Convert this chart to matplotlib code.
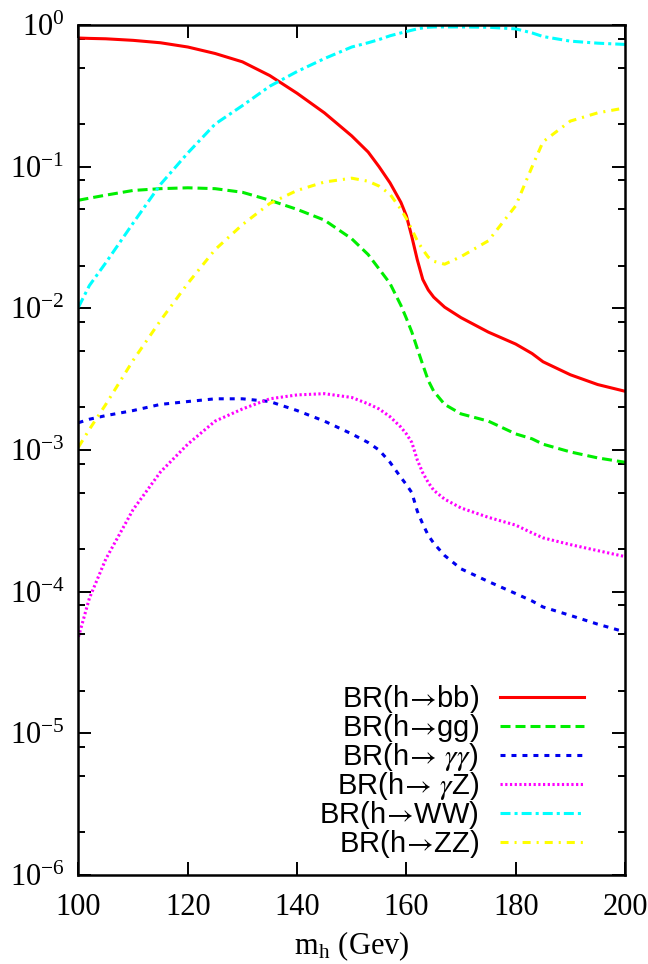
import matplotlib
matplotlib.use("Agg")
import matplotlib.pyplot as plt
from matplotlib.ticker import LogLocator, NullLocator, NullFormatter

# Higgs mass grid (GeV)
mh = [100, 102, 105, 110, 115, 120, 125, 130, 135, 140, 145, 150, 153, 155, 157,
      159, 160, 161, 162, 163, 164, 165, 167, 170, 175, 180, 183, 185, 190, 195, 200]

# branching ratios
br_bb = [0.81, 0.805, 0.80, 0.78, 0.75, 0.70, 0.63, 0.55, 0.44, 0.33, 0.24, 0.165, 0.127,
         0.10, 0.077, 0.056, 0.045, 0.032, 0.022, 0.016, 0.0135, 0.012, 0.0102, 0.0086,
         0.0068, 0.0056, 0.0048, 0.0042, 0.0034, 0.0029, 0.0026]
br_gg = [0.058, 0.060, 0.063, 0.068, 0.070, 0.071, 0.070, 0.066, 0.058, 0.050, 0.042,
         0.031, 0.024, 0.019, 0.015, 0.0105, 0.0085, 0.0068, 0.0052, 0.0040, 0.0031,
         0.0026, 0.0021, 0.0018, 0.0016, 0.0013, 0.0012, 0.0011, 0.00097, 0.00088, 0.00082]
br_aa = [0.00156, 0.00165, 0.00175, 0.0019, 0.0021, 0.0022, 0.0023, 0.0023, 0.0022,
         0.0019, 0.0016, 0.0013, 0.00113, 0.001, 0.00082, 0.00064, 0.00057, 0.0005,
         0.00037, 0.0003, 0.00025, 0.00022, 0.00018, 0.000145, 0.000118, 0.000097,
         0.000086, 0.000078, 0.000068, 0.000059, 0.000052]
br_za = [4.8e-5, 9.0e-5, 1.7e-4, 3.8e-4, 7.0e-4, 1.1e-3, 1.6e-3, 1.95e-3, 2.3e-3,
         2.45e-3, 2.5e-3, 2.35e-3, 2.12e-3, 1.95e-3, 1.72e-3, 1.45e-3, 1.3e-3, 1.13e-3,
         8.5e-4, 6.9e-4, 5.9e-4, 5.2e-4, 4.5e-4, 3.9e-4, 3.35e-4, 2.95e-4, 2.6e-4,
         2.4e-4, 2.15e-4, 1.95e-4, 1.77e-4]
br_ww = [0.0102, 0.0145, 0.021, 0.040, 0.075, 0.125, 0.20, 0.27, 0.37, 0.47, 0.58,
         0.70, 0.75, 0.79, 0.84, 0.88, 0.90, 0.92, 0.94, 0.955, 0.965, 0.97, 0.97, 0.97,
         0.965, 0.94, 0.88, 0.83, 0.77, 0.745, 0.73]
br_zz = [0.00105, 0.0014, 0.0021, 0.0043, 0.0082, 0.015, 0.026, 0.039, 0.055, 0.068,
         0.078, 0.083, 0.079, 0.073, 0.064, 0.050, 0.043, 0.036, 0.030, 0.026, 0.023,
         0.0215, 0.0205, 0.0232, 0.030, 0.053, 0.10, 0.15, 0.21, 0.24, 0.26]

arrow = '$\\!\\rightarrow\\!$'
labels = ['BR(h' + arrow + 'bb)', 'BR(h' + arrow + 'gg)',
          'BR(h' + arrow + ' $\\gamma\\gamma$)', 'BR(h' + arrow + ' $\\gamma$Z)',
          'BR(h' + arrow + 'WW)', 'BR(h' + arrow + 'ZZ)']

plt.rcParams['lines.scale_dashes'] = False
plt.rcParams['mathtext.fontset'] = 'stix'
plt.rcParams['axes.unicode_minus'] = False

fig = plt.figure(figsize=(6.48, 9.64), dpi=100)
ax = fig.add_axes([0.1211, 0.0923, 0.8434, 0.8817])

lw = 2.2
ax.plot(mh, br_bb, color='#ff0000', lw=lw, label=labels[0])
ax.plot(mh, br_gg, color='#00ee00', lw=lw, dashes=(7.2, 3.6), label=labels[1])
ax.plot(mh, br_aa, color='#0000ee', lw=lw, dashes=(3.6, 4.3), label=labels[2])
ax.plot(mh, br_za, color='#ff00ff', lw=lw, dashes=(1.6, 1.8), label=labels[3])
ax.plot(mh, br_ww, color='#00ffff', lw=lw, dashes=(7.2, 2.9, 2.2, 2.9), label=labels[4])
ax.plot(mh, br_zz, color='#ffff00', lw=lw, dashes=(5.8, 4.3, 1.5, 4.3), label=labels[5])

ax.set_yscale('log')
ax.set_xlim(100, 200)
ax.set_ylim(1e-6, 1)
ax.set_xticks([100, 120, 140, 160, 180, 200])
ax.xaxis.set_minor_locator(NullLocator())
ax.yaxis.set_major_locator(LogLocator(base=10, numticks=10))
ax.yaxis.set_minor_locator(LogLocator(base=10, subs=(2, 5, 8), numticks=20))
ax.yaxis.set_minor_formatter(NullFormatter())

for s in ax.spines.values():
    s.set_linewidth(1.8)
ax.tick_params(which='both', direction='in', top=True, right=True, width=1.4)
ax.tick_params(which='major', length=9.4, pad=10)
ax.tick_params(which='minor', length=5)
ax.tick_params(axis='x', pad=13)
for t in ax.get_xticklabels() + ax.get_yticklabels():
    t.set_family('Liberation Serif')
    t.set_fontsize(22)

ax.set_xlabel('m$_\\mathregular{h}$ (Gev)', family='Liberation Serif', fontsize=22,
              labelpad=5)

leg = ax.legend(loc='lower right', bbox_to_anchor=(0.952, 0.0), frameon=False,
                markerfirst=False, handlelength=2.9, handletextpad=0.7,
                labelspacing=-0.1, borderpad=0,
                prop={'family': ['Liberation Sans', 'DejaVu Sans'], 'size': 21})

fig.savefig('out.png', dpi=100)
